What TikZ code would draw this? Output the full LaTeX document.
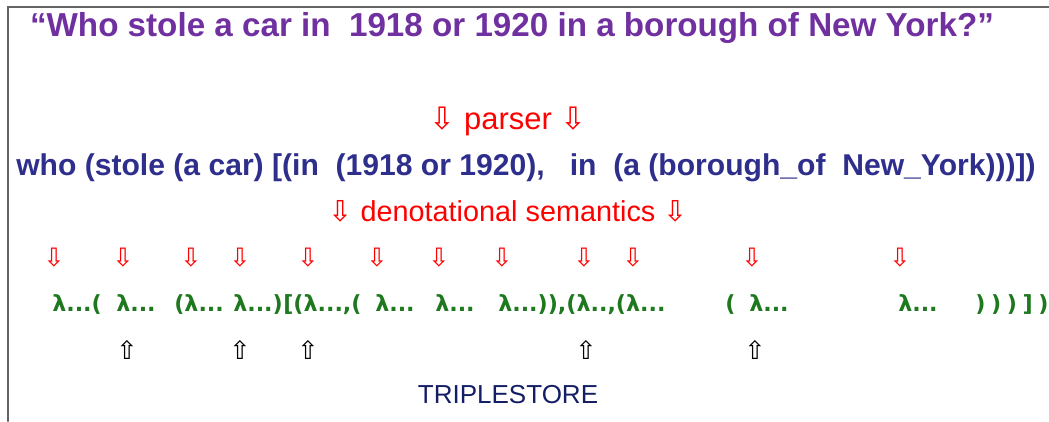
\documentclass[tikz,border=0pt]{standalone}
\usepackage{fontspec}
\setmainfont{Liberation Sans}
\newfontfamily\arrfont{DejaVu Sans}
\definecolor{titlepurple}{RGB}{112,48,160}
\definecolor{parsenavy}{RGB}{46,46,140}
\definecolor{storenavy}{RGB}{20,30,100}
\definecolor{lamgreen}{RGB}{30,120,30}
\definecolor{framegray}{RGB}{100,100,100}
\newcommand{\pgap}{\hspace{4pt}}
\tikzset{
  titletext/.style={font=\bfseries\fontsize{23.6}{28}\selectfont,text=titlepurple,inner sep=0pt,anchor=base},
  parsetext/.style={font=\bfseries\fontsize{21.4}{25}\selectfont,text=parsenavy,inner sep=0pt,anchor=base},
  steptext/.style={font=\fontsize{20.5}{24}\selectfont,text=red,inner sep=0pt,anchor=base},
  lamtext/.style={font=\arrfont\bfseries\fontsize{15.8}{19}\selectfont,text=lamgreen,inner sep=0pt,anchor=base west},
  downarr/.style={font=\arrfont\fontsize{18}{20}\selectfont,text=red,inner sep=0pt},
  uparr/.style={font=\arrfont\fontsize{18}{20}\selectfont,text=black,inner sep=0pt},
  storetext/.style={font=\fontsize{18.5}{22}\selectfont,text=storenavy,inner sep=0pt,anchor=base}
}
\begin{document}
\begin{tikzpicture}[x=0.025cm,y=0.025cm,line cap=round]
\useasboundingbox (0,0) rectangle (1049,421);
% frame
\draw[framegray,line width=1.5pt] (8,0)--(8,414)--(1049,414);
% question and parse
\node[titletext] (question) at (512,384) {“Who stole a car in\ \ 1918 or 1920 in a borough of New York?”};
\node[steptext,font=\fontsize{22}{26}\selectfont] (parser) at (508,291) {{\arrfont ⇩} parser {\arrfont ⇩}};
\node[parsetext] (parse) at (526,245) {who (stole (a car) [(in\ \ (1918 or 1920),\ \ \ in\ \ (a (borough\_of\ \ New\_York)))])};
\node[steptext] (denot) at (508,199) {{\arrfont ⇩} denotational semantics {\arrfont ⇩}};
% lambda terms
\foreach \x/\t [count=\i] in {52/{λ...(},116/{λ...},174/{(λ...},233/{λ...)},283/{[(λ...,(},
  375/{λ...},435/{λ...},498/{λ...)),(λ..,(λ...},725/{(},749/{λ...},898/{λ...},
  975/{)\pgap)\pgap)\pgap]\pgap)}}
  \node[lamtext] (lam\i) at (\x,110) {\t};
% arrows into and out of the terms
\foreach \x [count=\i] in {54,123,191,240,308,377,439,502,584,633,752,900}
  \node[downarr] (den\i) at (\x,163) {⇩};
\foreach \x [count=\i] in {127,240,308,586,755}
  \node[uparr] (ask\i) at (\x,71) {⇧};
\node[storetext] (store) at (508,18) {TRIPLESTORE};
\end{tikzpicture}
\end{document}
